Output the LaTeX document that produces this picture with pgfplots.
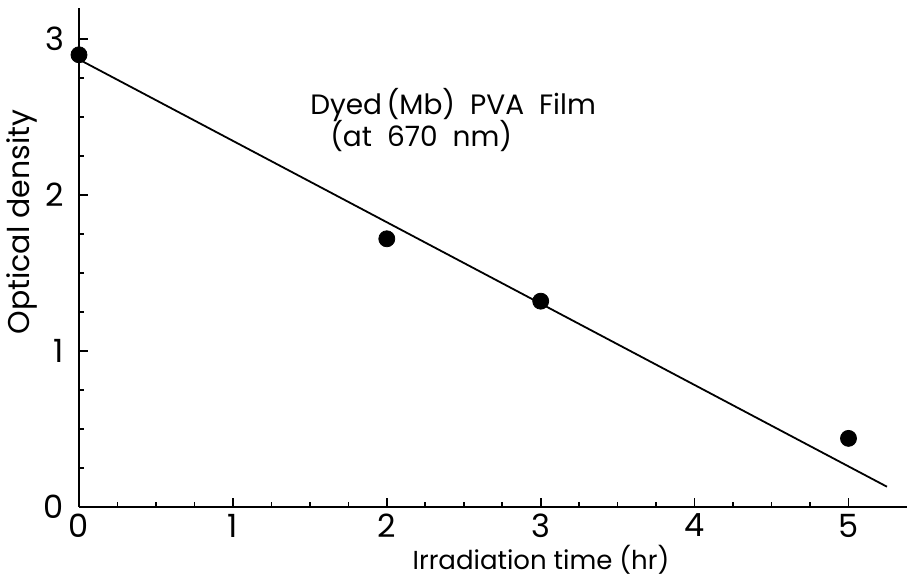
\documentclass[border=0pt]{standalone}
\usepackage{fontspec}
\setmainfont{Poppins}
\usepackage{pgfplots}
\pgfplotsset{compat=1.18}

\begin{document}
\begin{tikzpicture}
% 1 px of the reference = 0.5pt
\useasboundingbox (-39.5pt,-36pt) rectangle (414pt,253.5pt);
\begin{axis}[
    scale only axis,
    width=414pt, height=249.5pt,
    at={(0,0)}, anchor=south west,
    xmin=0, xmax=5.38,
    ymin=0, ymax=3.2,
    axis lines=left,
    axis line style={-, line width=1.3pt},
    xtick={0,1,2,3,4,5},
    ytick={0,1,2,3},
    minor tick num=3,
    tick align=inside,
    major tick length=4.5pt,
    minor tick length=2.5pt,
    tick style={line width=0.8pt, black},
    /pgf/number format/assume math mode=true,
    tick label style={font=\fontsize{16}{18}\selectfont},
    yticklabel style={xshift=-4pt},
    xlabel={Irradiation time (hr)},
    ylabel={Optical density},
    xlabel style={font=\fontsize{13}{16}\selectfont, at={(axis description cs:0.558,-0.106)}, anchor=center},
    ylabel style={font=\fontsize{15}{18}\selectfont, at={(axis description cs:-0.069,0.571)}, anchor=center},
    clip=false,
]
% fitted line
\addplot[black, line width=0.9pt, mark=none] coordinates {(0,2.87)(5.25,0.13)};
% measured points
\addplot[only marks, mark=*, mark size=4pt, black] coordinates {
(0,2.90)(2,1.72)(3,1.32)(5,0.44)};

\node[anchor=west, inner sep=0pt, font=\fontsize{14}{16}\selectfont] at (axis cs:1.50,2.58) {Dyed\,(Mb)\ \ PVA\ \ Film};
\node[anchor=west, inner sep=0pt, font=\fontsize{14}{16}\selectfont] at (axis cs:1.63,2.38) {(at\ \ 670\ \ nm)};
\end{axis}
\end{tikzpicture}
\end{document}
